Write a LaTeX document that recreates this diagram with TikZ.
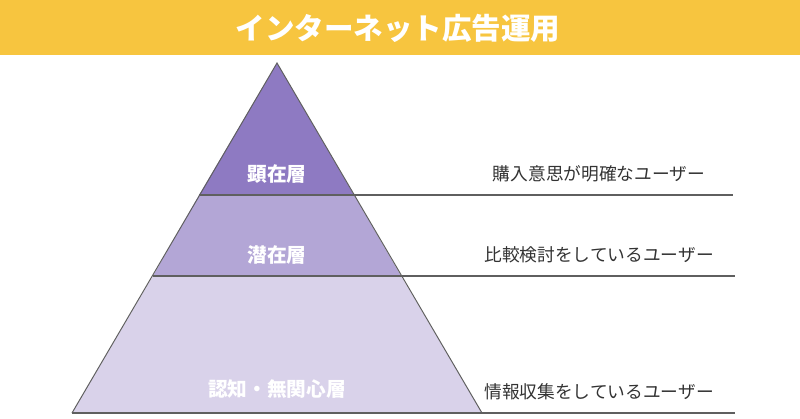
\documentclass[tikz,border=0pt]{standalone}
\usepackage{fontspec}
\newfontfamily\jpfont{Noto Sans CJK JP}
\usepackage{tikz}
\usetikzlibrary{positioning,calc}
\usepackage{xcolor}
\definecolor{adYellow}{HTML}{F7C53F}
\definecolor{adTop}{HTML}{8E7AC2}
\definecolor{adMid}{HTML}{B3A6D6}
\definecolor{adLow}{HTML}{D9D2EA}
\definecolor{adLine}{HTML}{5F5F5F}
\definecolor{adText}{HTML}{333333}
\tikzset{
  titletext/.style={font=\jpfont\bfseries\fontsize{21}{24}\selectfont, text=white, inner sep=0pt},
  layertext/.style={font=\jpfont\bfseries\fontsize{14}{16}\selectfont, text=white, inner sep=0pt},
  usertext/.style={font=\jpfont\fontsize{12.6}{14}\selectfont, text=adText, inner sep=0pt},
  edge/.style={draw=adLine, line width=0.7pt},
  divider/.style={draw=adLine, line width=1.6pt}
}
\begin{document}
\begin{tikzpicture}[x=0.025cm,y=-0.025cm]
  \useasboundingbox (0,0) rectangle (800,419);
  \fill[adYellow] (0,0) rectangle (800,55);
  \node[titletext] (title) at (398,28) {インターネット広告運用};
  % pyramid corners
  \coordinate (apex) at (277,63);
  \coordinate (t1l) at (199,195);  \coordinate (t1r) at (354,195);
  \coordinate (t2l) at (153,276);  \coordinate (t2r) at (401,276);
  \coordinate (t3l) at (72,413);   \coordinate (t3r) at (482,413);
  \coordinate (e1) at (733,195);
  \coordinate (e2) at (735,276);
  \coordinate (e3) at (735,413);
  \fill[adTop] (apex) -- (t1r) -- (t1l) -- cycle;
  \fill[adMid] (t1l) -- (t1r) -- (t2r) -- (t2l) -- cycle;
  \fill[adLow] (t2l) -- (t2r) -- (t3r) -- (t3l) -- cycle;
  \draw[edge] (t3l) -- (apex) -- (t3r);
  \draw[divider] (t1l) -- (e1);
  \draw[divider] (t2l) -- (e2);
  \draw[divider] (t3l) -- (e3);
  \node[layertext] (aware) at (277,174) {顕在層};
  \node[layertext] (latent) at (277,255) {潜在層};
  \node[layertext] (indiff) at (277,389) {認知・無関心層};
  \node[usertext] (buyer) at (599,174) {購入意思が明確なユーザー};
  \node[usertext] (compare) at (599,255) {比較検討をしているユーザー};
  \node[usertext] (collect) at (599,392) {情報収集をしているユーザー};
\end{tikzpicture}
\end{document}
